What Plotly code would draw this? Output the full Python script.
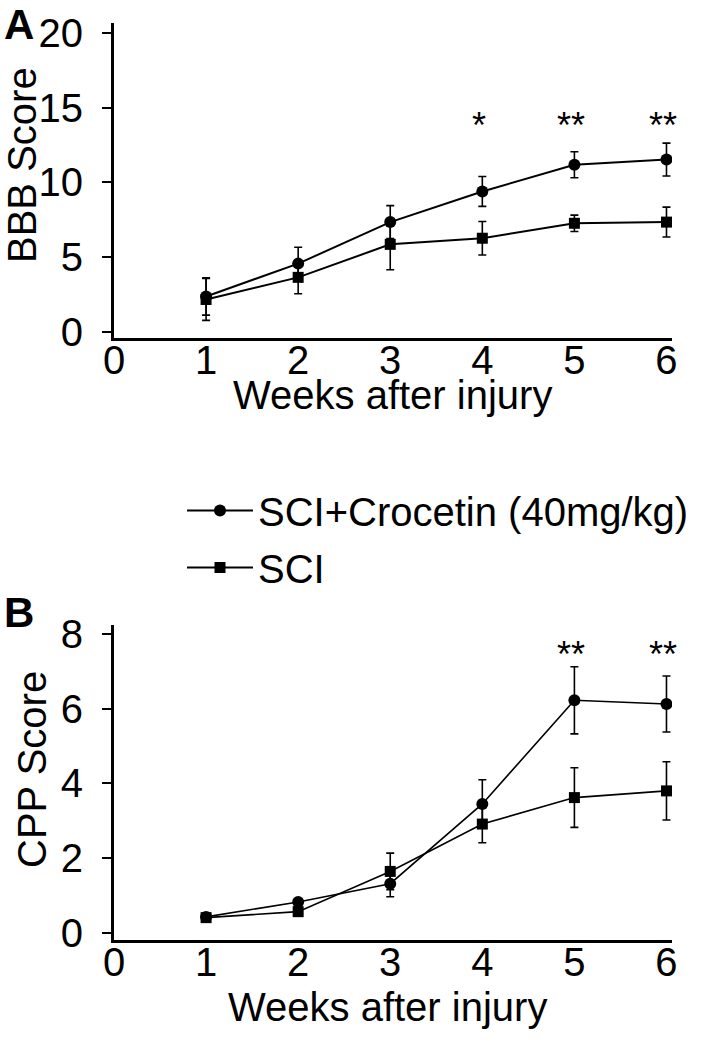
import plotly.graph_objects as go

# ---------------- data ----------------
weeks = [1, 2, 3, 4, 5, 6]
x_tick_vals = [0, 1, 2, 3, 4, 5, 6]

series_names = ["SCI+Crocetin (40mg/kg)", "SCI"]
x_title = "Weeks after injury"
y_titles = ["BBB Score", "CPP Score"]
panel_letters = ["A", "B"]

bbb_crocetin = [2.35, 4.55, 7.33, 9.38, 11.17, 11.52]
bbb_crocetin_err = [1.25, 1.10, 1.10, 1.00, 0.87, 1.10]
bbb_sci = [2.15, 3.63, 5.84, 6.25, 7.25, 7.33]
bbb_sci_err = [1.40, 1.10, 1.70, 1.12, 0.55, 1.00]
bbb_sig = ["", "", "", "*", "**", "**"]
bbb_ticks = [0, 5, 10, 15, 20]

cpp_crocetin = [0.42, 0.82, 1.31, 3.45, 6.23, 6.13]
cpp_crocetin_err = [0.08, 0.08, 0.35, 0.65, 0.90, 0.75]
cpp_sci = [0.40, 0.56, 1.64, 2.91, 3.62, 3.80]
cpp_sci_err = [0.08, 0.08, 0.49, 0.50, 0.80, 0.78]
cpp_sig = ["", "", "", "", "**", "**"]
cpp_ticks = [0, 2, 4, 6, 8]

# ---------------- layout helpers ----------------
W, H = 708, 1044
FONT = "Liberation Sans, Arial, Helvetica, sans-serif"


def px_x(p):
    return p / W


def px_y(p):
    return 1 - p / H


x_dom = [px_x(114), px_x(672)]
yA_dom = [px_y(338), px_y(23)]
yB_dom = [px_y(940), px_y(625)]
x_range = [0, 6.06]
yA_range = [-0.43, 20.66]
yB_range = [-0.2, 8.25]

fig = go.Figure()


def add_panel(xa, ya, cro, cro_err, sci, sci_err, lw, show):
    fig.add_trace(go.Scatter(
        x=weeks, y=cro, name=series_names[0], mode="lines+markers",
        line=dict(color="black", width=lw),
        marker=dict(symbol="circle", size=12, color="black"),
        error_y=dict(type="data", array=cro_err, visible=True,
                     color="black", thickness=1.6, width=4),
        xaxis=xa, yaxis=ya, showlegend=show, legendgroup="g1"))
    fig.add_trace(go.Scatter(
        x=weeks, y=sci, name=series_names[1], mode="lines+markers",
        line=dict(color="black", width=lw),
        marker=dict(symbol="square", size=11, color="black"),
        error_y=dict(type="data", array=sci_err, visible=True,
                     color="black", thickness=1.6, width=4),
        xaxis=xa, yaxis=ya, showlegend=show, legendgroup="g2"))


add_panel("x", "y", bbb_crocetin, bbb_crocetin_err, bbb_sci, bbb_sci_err, 2, True)
add_panel("x2", "y2", cpp_crocetin, cpp_crocetin_err, cpp_sci, cpp_sci_err, 1.6, False)

tickfont = dict(family=FONT, size=40, color="black")
titlefont = dict(family=FONT, size=40, color="black")

xbase = dict(range=x_range, domain=x_dom, showgrid=False, zeroline=False,
             showline=True, linecolor="black", linewidth=3,
             tickmode="array", tickvals=x_tick_vals, ticks="",
             ticklabelstandoff=-15, tickfont=tickfont, automargin=False)
xticks_only = dict(range=x_range, showgrid=False, zeroline=False, showline=False,
                   tickmode="array", tickvals=weeks, ticks="outside",
                   ticklen=9, tickwidth=2, tickcolor="black",
                   showticklabels=False, automargin=False)
ybase = dict(showgrid=False, zeroline=False, showline=True, linecolor="black",
             linewidth=3, ticks="outside", ticklen=9, tickwidth=2,
             tickcolor="black", tickfont=tickfont, tickmode="array",
             ticklabelstandoff=11, automargin=False)

fig.update_layout(
    width=W, height=H,
    margin=dict(l=0, r=0, t=0, b=0, autoexpand=False),
    paper_bgcolor="white", plot_bgcolor="white",
    font=dict(family=FONT, color="black"),
    xaxis=dict(**xbase, anchor="y"),
    yaxis=dict(**ybase, range=yA_range, domain=yA_dom, tickvals=bbb_ticks,
               anchor="x"),
    xaxis2=dict(**xbase, anchor="y2"),
    yaxis2=dict(**ybase, range=yB_range, domain=yB_dom, tickvals=cpp_ticks,
                anchor="x2"),
    xaxis3=dict(**xticks_only, overlaying="x", anchor="y"),
    xaxis4=dict(**xticks_only, overlaying="x2", anchor="y2"),
    legend=dict(x=px_x(182), y=px_y(478), xanchor="left", yanchor="top",
                font=dict(family=FONT, size=40, color="black"),
                bgcolor="rgba(0,0,0,0)", itemwidth=66, tracegroupgap=2,
                traceorder="grouped"),
    showlegend=True,
)

annotations = []


def paper_text(text, xp, yp, font, angle=0):
    annotations.append(dict(text=text, x=px_x(xp), y=px_y(yp), xref="paper",
                            yref="paper", showarrow=False, textangle=angle,
                            xanchor="center", yanchor="middle", font=font))


letter_font = dict(family=FONT, size=42, color="black")
paper_text("<b>" + panel_letters[0] + "</b>", 19, 25, letter_font)
paper_text("<b>" + panel_letters[1] + "</b>", 19, 612, letter_font)
paper_text(y_titles[0], 22, 165, titlefont, -90)
paper_text(y_titles[1], 32, 770, titlefont, -90)
paper_text(x_title, 392, 395, titlefont)
paper_text(x_title, 388, 1007, titlefont)

# significance stars
star_font = dict(family=FONT, size=36, color="black")
star_y_A = 14.1
star_y_B = 7.58
for wk, s in zip(weeks, bbb_sig):
    if s:
        annotations.append(dict(text=s, x=wk, y=star_y_A, xref="x", yref="y",
                                showarrow=False, xshift=-3, yshift=-5,
                                xanchor="center", yanchor="middle",
                                font=star_font))
for wk, s in zip(weeks, cpp_sig):
    if s:
        annotations.append(dict(text=s, x=wk, y=star_y_B, xref="x2", yref="y2",
                                showarrow=False, xshift=-3, yshift=-5,
                                xanchor="center", yanchor="middle",
                                font=star_font))
fig.update_layout(annotations=annotations)

fig.write_html("out.html",
               config={"displayModeBar": False},
               post_script="document.body.style.margin='0';"
                           "document.body.style.padding='0';")
